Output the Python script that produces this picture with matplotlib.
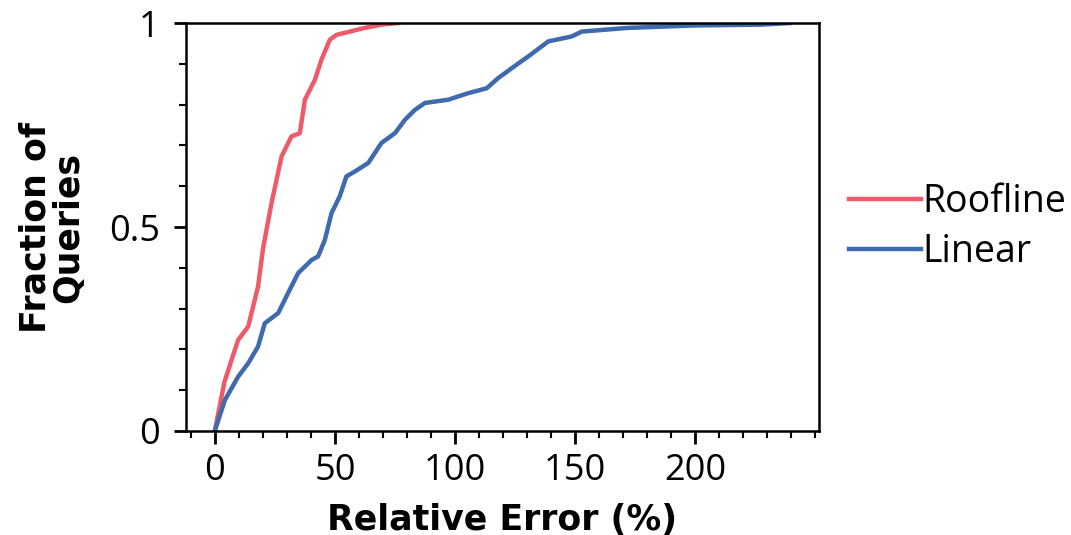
import matplotlib
matplotlib.use("Agg")
import matplotlib.pyplot as plt
from matplotlib.ticker import MultipleLocator, FixedLocator

plt.rcParams['font.family'] = ['Open Sans', 'DejaVu Sans']

roofline_x = [0, 4.0, 9.7, 13.9, 18.0, 20.1, 23.6, 27.8, 31.9, 35.4, 37.5, 41.7, 44.4, 47.9, 50.7, 62.5, 69.4, 76.4]
roofline_y = [0, 0.12, 0.223, 0.256, 0.354, 0.448, 0.558, 0.673, 0.722, 0.730, 0.812, 0.861, 0.91, 0.959, 0.971, 0.988, 0.996, 1.0]

linear_x = [0, 4.2, 9.7, 13.9, 18.0, 20.8, 26.4, 30.5, 34.7, 40.3, 43.0, 45.8, 48.6, 52.0, 54.8, 58.3, 63.9, 69.4, 75.0,
            79.2, 83.3, 87.5, 97.2, 105.5, 113.2, 118.0, 125.7, 130.5, 138.9, 148.6, 152.8, 172.0, 200.0, 227.6, 239.6]
linear_y = [0, 0.076, 0.133, 0.166, 0.207, 0.264, 0.289, 0.338, 0.387, 0.419, 0.428, 0.468, 0.534, 0.575, 0.624, 0.636,
            0.657, 0.706, 0.730, 0.763, 0.787, 0.804, 0.812, 0.828, 0.840, 0.865, 0.898, 0.918, 0.955, 0.967, 0.979,
            0.988, 0.994, 0.996, 1.0]

x_ticks = [0, 50, 100, 150, 200]
y_ticks = [0, 0.5, 1]
y_tick_labels = ["0", "0.5", "1"]

fig = plt.figure(figsize=(10.71, 5.35), dpi=100)
ax = fig.add_axes([0.1737, 0.1944, 0.591, 0.7626])

ax.plot(roofline_x, roofline_y, color="#ef5a68", lw=3.2, label="Roofline")
ax.plot(linear_x, linear_y, color="#3e6aae", lw=3.2, label="Linear")

ax.set_ylim(0, 1)
ax.margins(x=0.05)
ax.xaxis.set_major_locator(FixedLocator(x_ticks))
ax.xaxis.set_minor_locator(MultipleLocator(10))
ax.yaxis.set_major_locator(FixedLocator(y_ticks))
ax.set_yticklabels(y_tick_labels)
ax.yaxis.set_minor_locator(MultipleLocator(0.1))

ax.tick_params(which='major', length=9, width=2, labelsize=26, direction='out')
ax.tick_params(axis='x', which='major', pad=7)
ax.tick_params(axis='y', which='major', pad=10)
ax.tick_params(which='minor', length=5, width=1.5, direction='out')
for s in ax.spines.values():
    s.set_linewidth(1.8)

ax.set_xlabel("Relative Error (%)", fontsize=25, fontweight='bold', labelpad=10, family='DejaVu Sans')
ax.set_ylabel("Fraction of\nQueries", fontsize=25, fontweight='bold', labelpad=17, linespacing=0.95,
              family='DejaVu Sans')

ax.legend(loc='center left', bbox_to_anchor=(1.0, 0.5), frameon=False, fontsize=27,
          handlelength=1.92, handletextpad=0.05, labelspacing=0.3, borderaxespad=0.4)

fig.savefig("out.png", dpi=100)
